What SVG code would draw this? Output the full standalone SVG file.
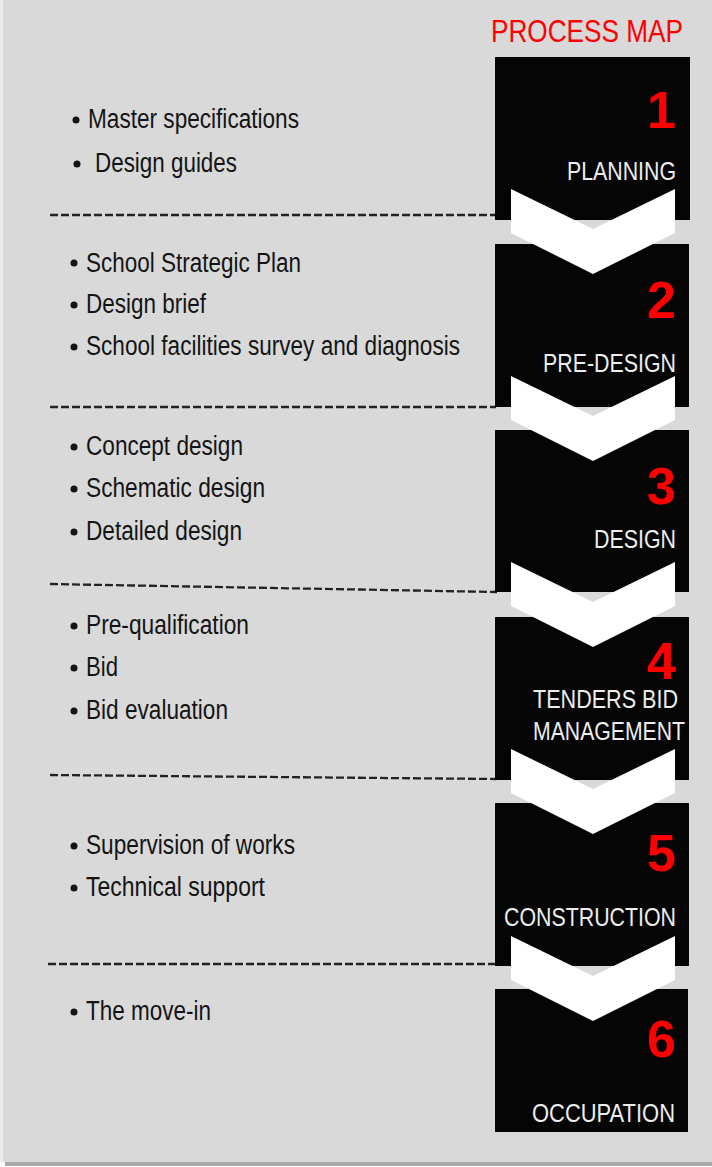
<svg xmlns="http://www.w3.org/2000/svg" width="712" height="1167" viewBox="0 0 712 1167">
  <style>
    .item { font-family: "Liberation Sans", Arial, sans-serif; font-size: 27px; fill: #141414; }
    .label { font-family: "Liberation Sans", Arial, sans-serif; font-size: 26px; fill: #ededed; }
    .num { font-family: "Liberation Sans", Arial, sans-serif; font-size: 52px; font-weight: bold; fill: #ff0000; text-anchor: end; }
    .title { font-family: "Liberation Sans", Arial, sans-serif; font-size: 31px; fill: #ff0000; }
    .box { fill: #050505; }
    .chev { fill: #ffffff; }
    .dash { stroke: #222222; stroke-width: 2.3; stroke-dasharray: 8 3; fill: none; }
    .bullet { fill: #141414; }
  </style>
  <defs>
    <polygon id="chevron" points="511,0 593,40 675,0 675,44 593,85 511,44"/>
  </defs>
  <rect x="0" y="0" width="712" height="1167" fill="#ffffff"/>
  <rect x="5" y="1160" width="707" height="6" fill="#a9a9a9"/>
  <rect x="0" y="0" width="3" height="1162" fill="#ececec"/>
  <rect x="3" y="0" width="709" height="1162" fill="#d9d9d9"/>

  <text class="title" x="491" y="42" textLength="192" lengthAdjust="spacingAndGlyphs">PROCESS MAP</text>

  <g id="connectors">
    <line class="dash" x1="50" y1="215" x2="496" y2="215"/>
    <line class="dash" x1="50" y1="407" x2="496" y2="407"/>
    <line class="dash" x1="50" y1="584" x2="497" y2="592"/>
    <line class="dash" x1="50" y1="775" x2="496" y2="779"/>
    <line class="dash" x1="48" y1="964" x2="496" y2="964"/>
  </g>

  <g id="step1">
    <rect class="box" x="495" y="57" width="195" height="163"/>
    <text class="num" x="676" y="128">1</text>
    <text class="label" x="567" y="180" textLength="109" lengthAdjust="spacingAndGlyphs">PLANNING</text>
  </g>
  <g id="step2">
    <rect class="box" x="495" y="244" width="194" height="163"/>
    <text class="num" x="676" y="318">2</text>
    <text class="label" x="543" y="372" textLength="133" lengthAdjust="spacingAndGlyphs">PRE-DESIGN</text>
  </g>
  <g id="step3">
    <rect class="box" x="495" y="430" width="194" height="162"/>
    <text class="num" x="676" y="504">3</text>
    <text class="label" x="594" y="548" textLength="82" lengthAdjust="spacingAndGlyphs">DESIGN</text>
  </g>
  <g id="step4">
    <rect class="box" x="495" y="617" width="194" height="163"/>
    <text class="num" x="676" y="679">4</text>
    <text class="label" x="533" y="708" textLength="145" lengthAdjust="spacingAndGlyphs">TENDERS BID</text>
    <text class="label" x="533" y="740" textLength="152" lengthAdjust="spacingAndGlyphs">MANAGEMENT</text>
  </g>
  <g id="step5">
    <rect class="box" x="495" y="803" width="194" height="163"/>
    <text class="num" x="676" y="871">5</text>
    <text class="label" x="504" y="926" textLength="172" lengthAdjust="spacingAndGlyphs">CONSTRUCTION</text>
  </g>
  <g id="step6">
    <rect class="box" x="495" y="989" width="193" height="143"/>
    <text class="num" x="676" y="1057">6</text>
    <text class="label" x="532" y="1122" textLength="143" lengthAdjust="spacingAndGlyphs">OCCUPATION</text>
  </g>

  <g id="chevrons">
    <use href="#chevron" class="chev" y="189"/>
    <use href="#chevron" class="chev" y="376"/>
    <use href="#chevron" class="chev" y="562"/>
    <use href="#chevron" class="chev" y="749"/>
    <use href="#chevron" class="chev" y="936"/>
  </g>

  <g id="items1">
    <circle class="bullet" cx="76" cy="120" r="3.5"/>
    <text class="item" x="88" y="128" textLength="211" lengthAdjust="spacingAndGlyphs">Master specifications</text>
    <circle class="bullet" cx="77" cy="164" r="3.5"/>
    <text class="item" x="95" y="172" textLength="142" lengthAdjust="spacingAndGlyphs">Design guides</text>
  </g>
  <g id="items2">
    <circle class="bullet" cx="74" cy="263" r="3.5"/>
    <text class="item" x="86" y="272" textLength="215" lengthAdjust="spacingAndGlyphs">School Strategic Plan</text>
    <circle class="bullet" cx="74" cy="305" r="3.5"/>
    <text class="item" x="86" y="313" textLength="120" lengthAdjust="spacingAndGlyphs">Design brief</text>
    <circle class="bullet" cx="74" cy="347" r="3.5"/>
    <text class="item" x="86" y="355" textLength="374" lengthAdjust="spacingAndGlyphs">School facilities survey and diagnosis</text>
  </g>
  <g id="items3">
    <circle class="bullet" cx="74" cy="447" r="3.5"/>
    <text class="item" x="86" y="455" textLength="157" lengthAdjust="spacingAndGlyphs">Concept design</text>
    <circle class="bullet" cx="74" cy="489" r="3.5"/>
    <text class="item" x="86" y="497" textLength="179" lengthAdjust="spacingAndGlyphs">Schematic design</text>
    <circle class="bullet" cx="74" cy="532" r="3.5"/>
    <text class="item" x="86" y="540" textLength="156" lengthAdjust="spacingAndGlyphs">Detailed design</text>
  </g>
  <g id="items4">
    <circle class="bullet" cx="74" cy="626" r="3.5"/>
    <text class="item" x="86" y="634" textLength="163" lengthAdjust="spacingAndGlyphs">Pre-qualification</text>
    <circle class="bullet" cx="74" cy="668" r="3.5"/>
    <text class="item" x="86" y="676" textLength="32" lengthAdjust="spacingAndGlyphs">Bid</text>
    <circle class="bullet" cx="74" cy="711" r="3.5"/>
    <text class="item" x="86" y="719" textLength="142" lengthAdjust="spacingAndGlyphs">Bid evaluation</text>
  </g>
  <g id="items5">
    <circle class="bullet" cx="74" cy="846" r="3.5"/>
    <text class="item" x="86" y="854" textLength="209" lengthAdjust="spacingAndGlyphs">Supervision of works</text>
    <circle class="bullet" cx="74" cy="888" r="3.5"/>
    <text class="item" x="86" y="896" textLength="179" lengthAdjust="spacingAndGlyphs">Technical support</text>
  </g>
  <g id="items6">
    <circle class="bullet" cx="74" cy="1012" r="3.5"/>
    <text class="item" x="86" y="1020" textLength="125" lengthAdjust="spacingAndGlyphs">The move-in</text>
  </g>
</svg>
